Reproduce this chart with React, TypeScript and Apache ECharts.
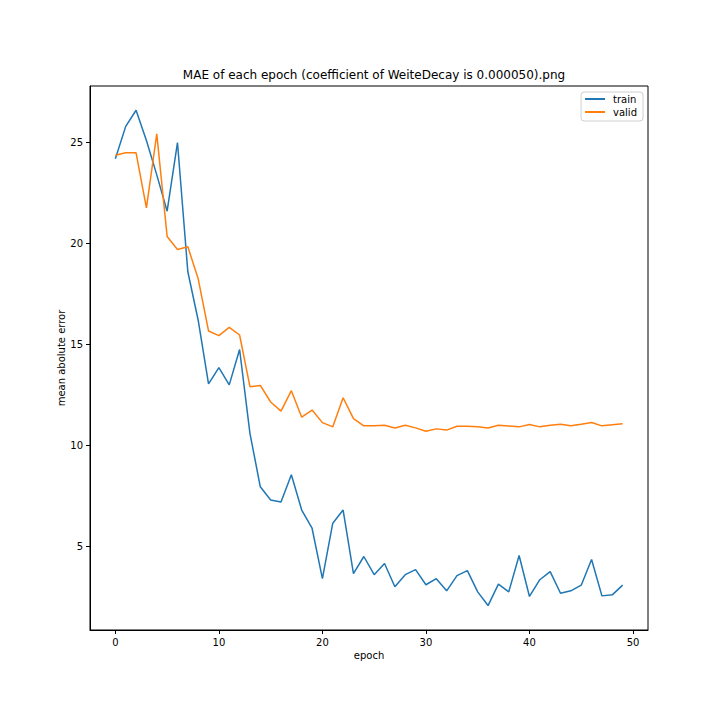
import React, { useEffect, useRef } from 'react';
import * as echarts from 'echarts';

// values
const trainMae = [
  24.2, 25.8, 26.6, 25.1, 23.4, 21.6, 25.0, 18.6, 16.2, 13.05,
  13.85, 13.0, 14.75, 10.6, 7.95, 7.3, 7.2, 8.55, 6.8, 5.9,
  3.4, 6.15, 6.8, 3.65, 4.5, 3.6, 4.15, 3.0, 3.6, 3.85,
  3.1, 3.4, 2.8, 3.55, 3.8, 2.75, 2.07, 3.13, 2.75, 4.55,
  2.52, 3.35, 3.75, 2.68, 2.8, 3.08, 4.35, 2.55, 2.6, 3.08,
];

const validMae = [
  24.37, 24.49, 24.49, 21.76, 25.43, 20.35, 19.7, 19.84, 18.25, 15.67,
  15.44, 15.85, 15.47, 12.91, 12.97, 12.15, 11.7, 12.71, 11.4, 11.75,
  11.13, 10.92, 12.36, 11.33, 10.97, 10.97, 11.0, 10.86, 11.0, 10.87,
  10.7, 10.82, 10.76, 10.95, 10.95, 10.92, 10.86, 11.0, 10.96, 10.92,
  11.04, 10.92, 11.0, 11.05, 10.97, 11.05, 11.14, 10.97, 11.03, 11.07,
];

const xTicks = [0, 10, 20, 30, 40, 50];
const yTicks = [5, 10, 15, 20, 25];

const FONT = 'DejaVu Sans';

export default function App() {
  const chartRef = useRef<HTMLDivElement>(null);

  useEffect(() => {
    const chart = echarts.init(chartRef.current!, null, { renderer: 'svg' });

    const toPoints = (arr: number[]) => arr.map((v, i) => [i, v]);

    const axisCommon = {
      axisLine: { show: true, onZero: false, lineStyle: { color: '#000', width: 1 } },
      splitLine: { show: false },
      axisTick: { show: true, length: 4, lineStyle: { color: '#000' } },
      axisLabel: { color: '#000', fontSize: 10, fontFamily: FONT },
      nameTextStyle: { color: '#000', fontSize: 10, fontFamily: FONT },
      nameMoveOverlap: false,
    };

    chart.setOption({
      animation: false,
      backgroundColor: '#fff',
      textStyle: { fontFamily: FONT },
      title: {
        text: 'MAE of each epoch (coefficient of WeiteDecay is 0.000050).png',
        left: 369,
        textAlign: 'center',
        top: 64,
        textStyle: { fontSize: 12, fontWeight: 'normal', color: '#000', fontFamily: FONT },
      },
      grid: {
        left: 90,
        right: 72,
        top: 86,
        bottom: 90,
        show: true,
        borderColor: '#000',
        borderWidth: 1,
      },
      legend: {
        orient: 'vertical',
        right: 77,
        top: 92,
        itemWidth: 20,
        itemHeight: 2,
        itemGap: 3,
        icon: 'rect',
        backgroundColor: '#fff',
        borderColor: '#d0d0d0',
        borderWidth: 1,
        borderRadius: 3,
        padding: [2, 6, 4, 4],
        textStyle: { fontSize: 10, color: '#000', fontFamily: FONT, padding: [0, 0, 0, 3] },
        data: ['train', 'valid'],
      },
      xAxis: {
        type: 'value',
        min: -2.45,
        max: 51.45,
        name: 'epoch',
        nameLocation: 'middle',
        nameGap: 20,
        ...axisCommon,
        axisTick: { ...axisCommon.axisTick, customValues: xTicks },
        axisLabel: { ...axisCommon.axisLabel, customValues: xTicks, margin: 7 },
      },
      yAxis: {
        type: 'value',
        min: 0.86,
        max: 27.8,
        name: 'mean abolute error',
        nameLocation: 'middle',
        nameGap: 24,
        ...axisCommon,
        axisTick: { ...axisCommon.axisTick, customValues: yTicks },
        axisLabel: { ...axisCommon.axisLabel, customValues: yTicks, margin: 7 },
      },
      series: [
        {
          name: 'train',
          type: 'line',
          data: toPoints(trainMae),
          symbol: 'none',
          color: '#1f77b4',
          lineStyle: { color: '#1f77b4', width: 1.5 },
        },
        {
          name: 'valid',
          type: 'line',
          data: toPoints(validMae),
          symbol: 'none',
          color: '#ff7f0e',
          lineStyle: { color: '#ff7f0e', width: 1.5 },
        },
      ],
    });

    return () => {
      chart.dispose();
    };
  }, []);

  return (
    <div style={{ position: 'fixed', left: 0, top: 0, width: 720, height: 720, background: '#fff' }}>
      <div ref={chartRef} style={{ width: '720px', height: '720px' }} />
    </div>
  );
}
